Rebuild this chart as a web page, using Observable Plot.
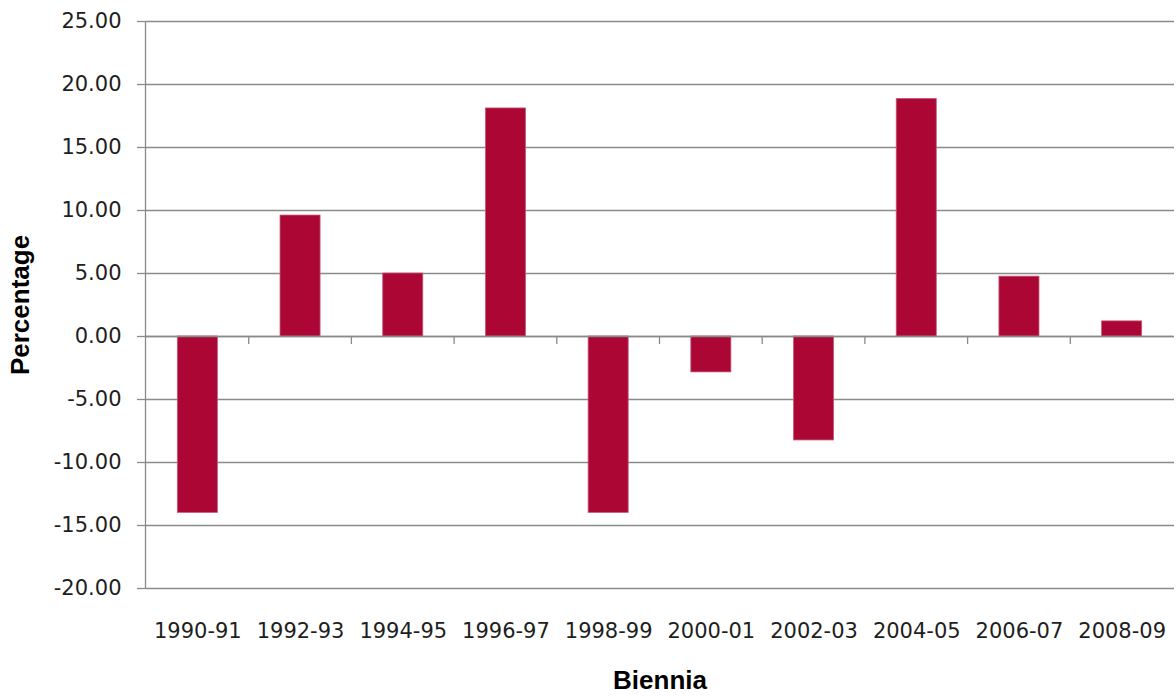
<!DOCTYPE html>
<html>
<head>
<meta charset="utf-8">
<script src="https://cdn.jsdelivr.net/npm/d3@7"></script>
<script src="https://cdn.jsdelivr.net/npm/@observablehq/plot@0.6"></script>
<style>
  html, body { margin: 0; padding: 0; background: #fff; }
  #chart svg { display: block; }
</style>
</head>
<body>
<div id="chart"></div>
<script>
const categories = ["1990-91","1992-93","1994-95","1996-97","1998-99","2000-01","2002-03","2004-05","2006-07","2008-09"];
const values = [-14.0, 9.6, 5.0, 18.1, -14.0, -2.85, -8.25, 18.85, 4.75, 1.2];
const yTicks = [-20, -15, -10, -5, 0, 5, 10, 15, 20, 25];
const yLabel = "Percentage";
const xLabel = "Biennia";

const data = categories.map((c, i) => ({cat: c, value: values[i]}));

const gridColor = "#8a8a8a";
const textColor = "#1e1e1e";

function frameAndTicks(index, scales, vals, dims) {
  const x = scales.x, y = scales.y;
  const bw = x.bandwidth();
  const step = x.step();
  const g = d3.create("svg:g").attr("stroke", gridColor).attr("stroke-width", 1.3);
  // vertical axis line
  g.append("line")
    .attr("x1", dims.marginLeft - 0.5).attr("x2", dims.marginLeft - 0.5)
    .attr("y1", dims.marginTop).attr("y2", dims.height - dims.marginBottom);
  // category boundary ticks on the zero line
  categories.slice(1).forEach(c => {
    const xb = x(c) + bw / 2 - step / 2;
    g.append("line")
      .attr("x1", xb).attr("x2", xb)
      .attr("y1", y(0)).attr("y2", y(0) + 8);
  });
  return g.node();
}

const chart = Plot.plot({
  width: 1176,
  height: 696,
  marginLeft: 146,
  marginRight: 3,
  marginTop: 21,
  marginBottom: 108,
  style: {fontFamily: "DejaVu Sans", fontSize: "21px", color: textColor, background: "#fff"},
  x: {domain: categories, paddingInner: 0.61, paddingOuter: 0.305, round: false},
  y: {domain: [-20, 25]},
  marks: [
    Plot.gridY(yTicks, {stroke: gridColor, strokeOpacity: 1, strokeWidth: 1.3, insetRight: -1}),
    Plot.axisY(yTicks, {
      tickSize: 9, tickPadding: 16, stroke: gridColor, strokeWidth: 1.3,
      tickFormat: d => d.toFixed(2), label: null, fill: textColor,
      fontSize: 21
    }),
    Plot.axisX({tickSize: 0, tickPadding: 35, label: null, fill: textColor, fontSize: 21}),
    Plot.barY(data, {x: "cat", y: "value", fill: "#ac0634", stroke: "#c45a7c", strokeWidth: 0.8}),
    Plot.ruleY([0], {stroke: gridColor, strokeWidth: 1.3}),
    frameAndTicks,
    Plot.text([yLabel], {
      frameAnchor: "left", rotate: -90, dx: -136, lineAnchor: "top", textAnchor: "middle",
      fontFamily: "Liberation Sans", fontWeight: "bold", fontSize: 26, fill: "#000"
    }),
    Plot.text([xLabel], {
      frameAnchor: "bottom", dy: 82, lineAnchor: "top", textAnchor: "middle",
      fontFamily: "Liberation Sans", fontWeight: "bold", fontSize: 26, fill: "#000"
    })
  ]
});
document.getElementById("chart").appendChild(chart);
</script>
</body>
</html>
